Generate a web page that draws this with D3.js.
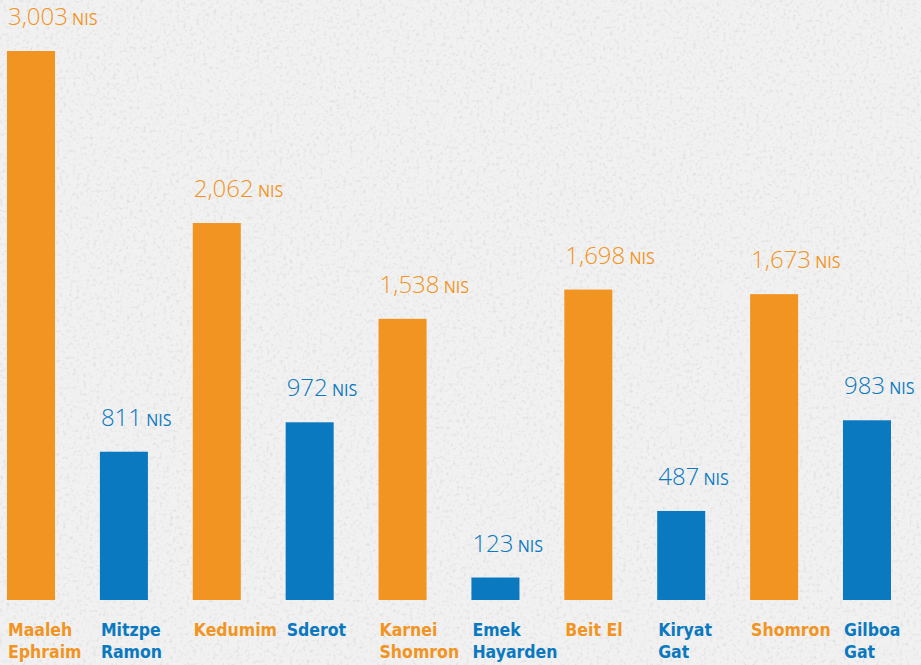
<!DOCTYPE html>
<html><head><meta charset="utf-8">
<script src="https://cdn.jsdelivr.net/npm/d3@7"></script>
<style>
html,body{margin:0;padding:0;background:#f0f0f0;}
svg{display:block;}
</style></head>
<body>
<svg id="chart" width="921" height="665"></svg>
<script>
const categories = [["Maaleh","Ephraim"],["Mitzpe","Ramon"],["Kedumim"],["Sderot"],["Karnei","Shomron"],["Emek","Hayarden"],["Beit El"],["Kiryat","Gat"],["Shomron"],["Gilboa","Gat"]];
const values = [3003, 811, 2062, 972, 1538, 123, 1698, 487, 1673, 983];
const groups = ["settlement","town","settlement","town","settlement","town","settlement","town","settlement","town"];
const unit = "NIS";
const colors = {settlement:"#f29422", town:"#0a79c0"};

const svg = d3.select("#chart");
const W = 921, H = 665;

const defs = svg.append("defs");
const filt = defs.append("filter").attr("id","tex").attr("x",0).attr("y",0).attr("width","100%").attr("height","100%");
filt.append("feTurbulence").attr("type","fractalNoise").attr("baseFrequency","0.3").attr("numOctaves",3).attr("seed",4).attr("result","n");
filt.append("feColorMatrix").attr("in","n").attr("type","matrix")
  .attr("values","0 0 0 0 0.55  0 0 0 0 0.55  0 0 0 0 0.56  0 0 0 -2.6 1.25").attr("result","m");
filt.append("feComposite").attr("in","m").attr("in2","SourceGraphic").attr("operator","in");
svg.append("rect").attr("width",W).attr("height",H).attr("fill","#f1f1f1");
svg.append("rect").attr("width",W).attr("height",H).attr("fill","#ffffff").attr("filter","url(#tex)").attr("opacity",0.4);

const x = d3.scaleBand().domain(d3.range(values.length)).range([7, 891]).paddingInner(0.483).paddingOuter(0);
const y = d3.scaleLinear().domain([0, 3003]).range([600, 51]);

const g = svg.append("g");
values.forEach((v,i)=>{
  const c = colors[groups[i]];
  g.append("rect").attr("x",x(i)).attr("y",y(v)).attr("width",x.bandwidth()).attr("height",y(0)-y(v)).attr("fill",c);
  const t = g.append("text").attr("x",x(i)+1).attr("y",y(v)-26).attr("fill",c)
    .style("font-family","'Open Sans', sans-serif");
  t.append("tspan").text(d3.format(",")(v)).style("font-size","24px").style("font-weight",300);
  t.append("tspan").text(" "+unit).style("font-size","16px").style("font-weight",400);
  const lab = g.append("text").attr("x",x(i)+1).attr("y",636).attr("fill",c)
    .style("font-family","'Liberation Sans Narrow', 'DejaVu Sans Condensed', sans-serif")
    .style("font-weight",700).style("font-size","17.5px");
  categories[i].forEach((line,j)=>{
    lab.append("tspan").attr("x",x(i)+1).attr("dy", j===0?0:22).text(line);
  });
});
</script>
</body></html>
